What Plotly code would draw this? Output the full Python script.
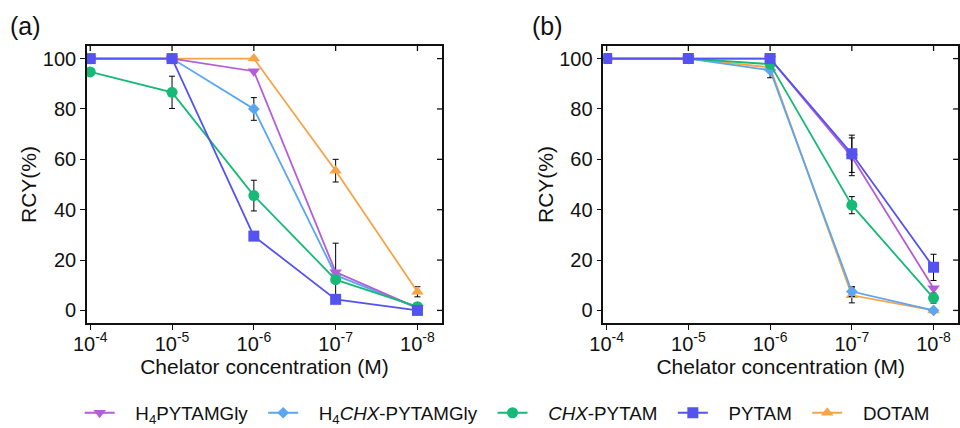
import plotly.graph_objects as go

# ---------------- data ----------------
conc = ["10<sup>-4</sup>", "10<sup>-5</sup>", "10<sup>-6</sup>", "10<sup>-7</sup>", "10<sup>-8</sup>"]

names = ["H<sub>4</sub>PYTAMGly", "H<sub>4</sub><i>CHX</i>-PYTAMGly", "<i>CHX</i>-PYTAM", "PYTAM", "DOTAM"]

# panel (a)
a_h4pytamgly = [100, 100, 95, 15.2, 1]
a_h4chx = [100, 100, 80, 14, 1]
a_chx = [94.7, 86.6, 45.6, 12.2, 1.5]
a_pytam = [100, 100, 29.5, 4.4, 0]
a_dotam = [100, 100, 100, 55.5, 7.4]

a_h4pytamgly_err = [None, None, None, 11.5, None]
a_h4chx_err = [None, None, 4.5, None, None]
a_chx_err = [None, 6.4, 6.1, None, None]
a_pytam_err = [None, None, None, None, None]
a_dotam_err = [None, None, None, 4.5, 2.0]

# panel (b)
b_h4pytamgly = [100, 100, 100, 61, 8.8]
b_h4chx = [100, 100, 95.4, 7.5, 0]
b_chx = [100, 100, 97.8, 41.8, 4.9]
b_pytam = [100, 100, 100, 62.2, 17.1]
b_dotam = [100, 100, 96.5, 6.0, 0]

b_h4pytamgly_err = [None, None, None, 7.5, None]
b_h4chx_err = [None, None, 3.0, 2.0, None]
b_chx_err = [None, None, None, 3.4, 2.0]
b_pytam_err = [None, None, None, 7.4, 5.2]
b_dotam_err = [None, None, None, 3.0, None]

yticks = [0, 20, 40, 60, 80, 100]

# ---------------- styles ----------------
colors = ["#B55DD9", "#5AA6F0", "#17B978", "#5553F0", "#F6A445"]
symbols = ["triangle-down", "diamond", "circle", "square", "triangle-up"]
msizes = [11, 9, 11, 11, 11]
FONT = "Liberation Sans, Arial, sans-serif"
NB = "\u00a0"
INK = "#111111"

fig = go.Figure()

panels = [
    ("x", "y", [a_h4pytamgly, a_h4chx, a_chx, a_pytam, a_dotam],
     [a_h4pytamgly_err, a_h4chx_err, a_chx_err, a_pytam_err, a_dotam_err], True),
    ("x2", "y2", [b_h4pytamgly, b_h4chx, b_chx, b_pytam, b_dotam],
     [b_h4pytamgly_err, b_h4chx_err, b_chx_err, b_pytam_err, b_dotam_err], False),
]
draw_order = [4, 1, 0, 2, 3]
for xa, ya, series, errs, show in panels:
    for i in draw_order:
        fig.add_trace(go.Scatter(
            x=conc, y=series[i], xaxis=xa, yaxis=ya,
            mode="lines+markers",
            name=NB * 3 + names[i] + NB * 2,
            legendrank=i + 1,
            showlegend=show,
            line=dict(color=colors[i], width=1.8),
            marker=dict(color=colors[i], symbol=symbols[i], size=msizes[i], line=dict(width=0)),
            error_y=dict(type="data", array=errs[i], color="black", thickness=1, width=3, visible=True),
        ))

xdom_a = [0.0906, 0.4604]
xdom_b = [0.6285, 0.998]
ydom = [0.2453, 0.8925]
xr = [-0.04, 4.3]
yr = [-5, 105]

axis_font = dict(family=FONT, size=20, color=INK)
title_font = dict(family=FONT, size=21, color=INK)

def main_x(dom, anchor):
    return dict(domain=dom, anchor=anchor, type="category", range=xr, automargin=False,
                showline=True, linecolor=INK, linewidth=1.6, mirror=True,
                ticks="outside", ticklen=5, tickwidth=1.3, tickcolor=INK,
                ticklabelstandoff=-3,
                tickfont=axis_font, showgrid=False, zeroline=False,
                title=dict(text="Chelator concentration (M)", font=title_font, standoff=0))

def main_y(anchor):
    return dict(domain=ydom, anchor=anchor, range=yr, tickvals=yticks, automargin=False,
                showline=True, linecolor=INK, linewidth=1.6, mirror=True,
                ticks="outside", ticklen=5, tickwidth=1.3, tickcolor=INK,
                tickfont=axis_font, showgrid=False, zeroline=False,
                title=dict(text="RCY(%)", font=title_font, standoff=0))

# inward-pointing mirrored ticks on the top and right frame edges
shapes = []
for xa, ya, dom in (("x", "y", xdom_a), ("x2", "y2", xdom_b)):
    frac_x = 5 / ((dom[1] - dom[0]) * 960)
    frac_y = 5 / ((ydom[1] - ydom[0]) * 428)
    for c in conc:
        shapes.append(dict(type="line", xref=xa, yref=ya + " domain", x0=c, x1=c, y0=1, y1=1 - frac_y,
                           line=dict(color=INK, width=1.3)))
    for t in yticks:
        shapes.append(dict(type="line", xref=xa + " domain", yref=ya, x0=1 - frac_x, x1=1, y0=t, y1=t,
                           line=dict(color=INK, width=1.3)))

fig.update_layout(
    template="none",
    width=960, height=428,
    margin=dict(l=0, r=0, t=0, b=0, autoexpand=False),
    paper_bgcolor="white", plot_bgcolor="white",
    font=dict(family=FONT, color=INK),
    xaxis=main_x(xdom_a, "y"),
    yaxis=main_y("x"),
    xaxis2=main_x(xdom_b, "y2"),
    yaxis2=main_y("x2"),
    shapes=shapes,
    legend=dict(orientation="h", x=0.083, xanchor="left", y=0.035, yanchor="middle",
                font=dict(family=FONT, size=18.8, color=INK),
                traceorder="normal", bgcolor="rgba(0,0,0,0)"),
    showlegend=True,
    annotations=[
        dict(text="(a)", x=0.008, y=0.94, xref="paper", yref="paper", xanchor="left", yanchor="middle",
             showarrow=False, font=dict(family=FONT, size=25, color=INK)),
        dict(text="(b)", x=0.552, y=0.94, xref="paper", yref="paper", xanchor="left", yanchor="middle",
             showarrow=False, font=dict(family=FONT, size=25, color=INK)),
    ],
)

fig.write_html("out.html")
